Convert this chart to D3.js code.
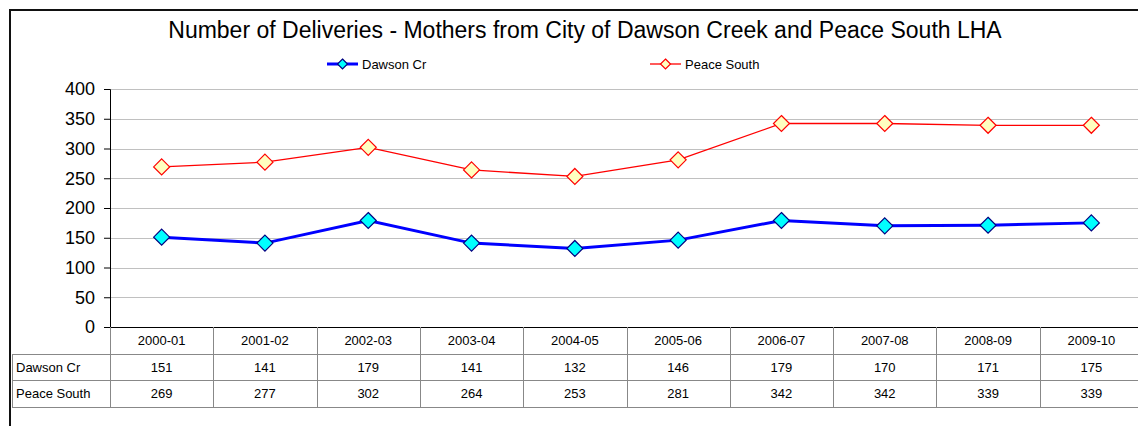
<!DOCTYPE html>
<html>
<head>
<meta charset="utf-8">
<script src="https://cdn.jsdelivr.net/npm/d3@7"></script>
<style>
  body { margin: 0; background: #fff; overflow: hidden; }
  text { font-family: "Liberation Sans", Arial, sans-serif; fill: #000; }
</style>
</head>
<body>
<svg width="1138" height="426"></svg>
<script>
var years = ["2000-01", "2001-02", "2002-03", "2003-04", "2004-05", "2005-06", "2006-07", "2007-08", "2008-09", "2009-10"];
var dawson = [151, 141, 179, 141, 132, 146, 179, 170, 171, 175];
var peace = [269, 277, 302, 264, 253, 281, 342, 342, 339, 339];
var yTicks = [0, 50, 100, 150, 200, 250, 300, 350, 400];

var series = [
    {name: "Dawson Cr", values: dawson, line: "#0000ff", lw: 3, fill: "#00ffff", stroke: "#000080"},
    {name: "Peace South", values: peace, line: "#ff0000", lw: 1.3, fill: "#ffffc0", stroke: "#ff0000"}
];

var svg = d3.select("svg");

var plotLeft = 110, bw = 103.3,
    plotTop = 89, plotBottom = 327;

var x = d3.scaleBand().domain(years).range([plotLeft, plotLeft + bw * years.length]);
var y = d3.scaleLinear().domain([0, 400]).range([plotBottom, plotTop]);

// outer frame (only left/top visible)
svg.append("rect")
    .attr("x", 10).attr("y", 10)
    .attr("width", 1200).attr("height", 500)
    .attr("fill", "none").attr("stroke", "#111").attr("stroke-width", 2);

svg.append("text")
    .attr("x", 585).attr("y", 38)
    .attr("text-anchor", "middle")
    .attr("font-size", 23)
    .text("Number of Deliveries - Mothers from City of Dawson Creek and Peace South LHA");

// gridlines
svg.append("g").selectAll("line")
    .data(yTicks.filter(function(d) { return d > 0; }))
    .enter().append("line")
        .attr("x1", plotLeft).attr("x2", 1138)
        .attr("y1", function(d) { return Math.round(y(d)) + 0.5; })
        .attr("y2", function(d) { return Math.round(y(d)) + 0.5; })
        .attr("stroke", "#c0c0c0").attr("stroke-width", 1);

// y axis
var yAxis = d3.axisLeft(y).tickValues(yTicks).tickSize(6).tickPadding(9);
var gy = svg.append("g")
    .attr("transform", "translate(" + plotLeft + ",0)")
    .call(yAxis);
gy.select(".domain").attr("stroke", "#000");
gy.selectAll(".tick line").attr("stroke", "#000");
gy.selectAll(".tick text")
    .attr("font-size", 18)
    .attr("font-family", "Liberation Sans, Arial, sans-serif")
    .attr("fill", "#000");

// x axis line
svg.append("line")
    .attr("x1", plotLeft).attr("x2", 1138)
    .attr("y1", plotBottom + 0.5).attr("y2", plotBottom + 0.5)
    .attr("stroke", "#000");

// data table
var rowH = 26.7, tableLeft = 12;
var rowTop = [plotBottom, plotBottom + rowH, plotBottom + rowH * 2, plotBottom + rowH * 3];
var table = svg.append("g").attr("stroke", "#888").attr("stroke-width", 1);
[rowTop[1], rowTop[2], rowTop[3]].forEach(function(ty) {
    table.append("line")
        .attr("x1", tableLeft).attr("x2", 1138)
        .attr("y1", Math.round(ty) + 0.5).attr("y2", Math.round(ty) + 0.5);
});
table.append("line")
    .attr("x1", tableLeft + 0.5).attr("x2", tableLeft + 0.5)
    .attr("y1", Math.round(rowTop[1])).attr("y2", Math.round(rowTop[3]) + 1);
x.domain().concat(["end"]).forEach(function(c, i) {
    var vx = Math.round(plotLeft + i * bw) + 0.5;
    table.append("line")
        .attr("x1", vx).attr("x2", vx)
        .attr("y1", plotBottom).attr("y2", Math.round(rowTop[3]) + 1);
});

svg.append("g").selectAll("text")
    .data(years)
    .enter().append("text")
        .attr("x", function(d) { return x(d) + x.bandwidth() / 2; })
        .attr("y", rowTop[0] + rowH / 2 + 4.5)
        .attr("text-anchor", "middle")
        .attr("font-size", 13)
        .text(function(d) { return d; });

series.forEach(function(s, si) {
    var ry = rowTop[si + 1] + rowH / 2 + 4.5;
    svg.append("text")
        .attr("x", tableLeft + 4).attr("y", ry)
        .attr("font-size", 13)
        .text(s.name);
    svg.append("g").selectAll("text")
        .data(s.values)
        .enter().append("text")
            .attr("x", function(d, i) { return x(years[i]) + x.bandwidth() / 2; })
            .attr("y", ry)
            .attr("text-anchor", "middle")
            .attr("font-size", 13)
            .text(function(d) { return d; });
});

// lines and markers
var diamond = "M0,-8L8,0L0,8L-8,0Z";
var line = d3.line()
    .x(function(d, i) { return x(years[i]) + x.bandwidth() / 2; })
    .y(function(d) { return y(d); });

series.slice().reverse().forEach(function(s) {
    svg.append("path")
        .attr("d", line(s.values))
        .attr("fill", "none")
        .attr("stroke", s.line)
        .attr("stroke-width", s.lw);
    svg.append("g").selectAll("path")
        .data(s.values)
        .enter().append("path")
            .attr("d", diamond)
            .attr("transform", function(d, i) { return "translate(" + (x(years[i]) + x.bandwidth() / 2) + "," + y(d) + ")"; })
            .attr("fill", s.fill)
            .attr("stroke", s.stroke)
            .attr("stroke-width", 1.2);
});

// legend
var legendX = [327, 650];
series.forEach(function(s, i) {
    var g = svg.append("g").attr("transform", "translate(" + legendX[i] + ",64)");
    g.append("line").attr("x1", 0).attr("x2", 31).attr("y1", 0).attr("y2", 0)
        .attr("stroke", s.line).attr("stroke-width", s.lw);
    g.append("path").attr("d", "M0,-5L5,0L0,5L-5,0Z")
        .attr("transform", "translate(15.5,0)")
        .attr("fill", s.fill).attr("stroke", s.stroke).attr("stroke-width", 1.2);
    g.append("text").attr("x", 35).attr("y", 4.5)
        .attr("font-size", 13)
        .text(s.name);
});
</script>
</body>
</html>
